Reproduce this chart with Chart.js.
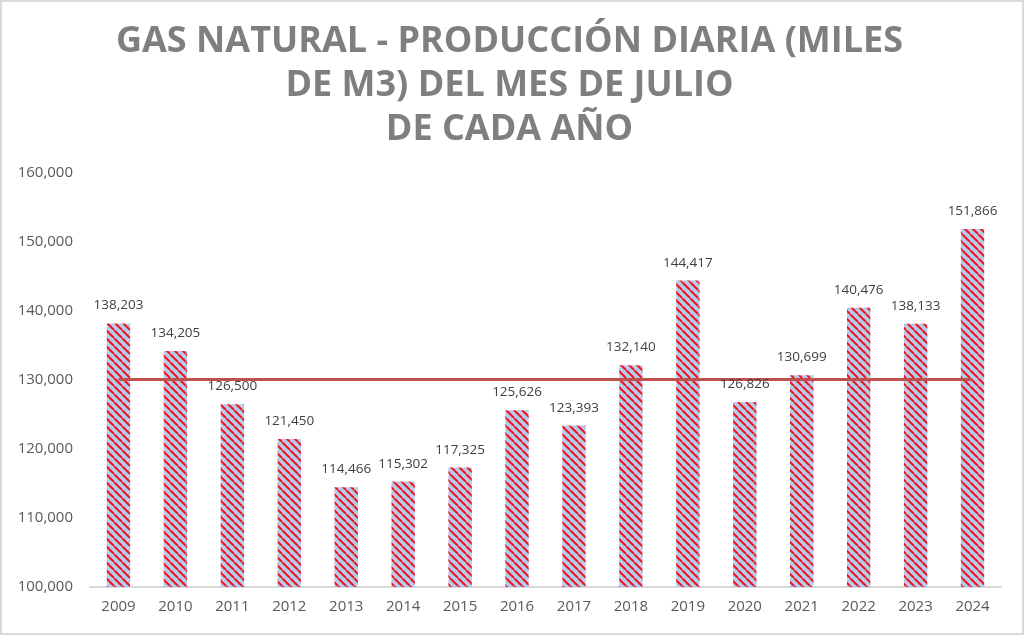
<!DOCTYPE html>
<html>
<head>
<meta charset="utf-8">
<script src="https://cdn.jsdelivr.net/npm/chart.js@4"></script>
<style>
  html, body { margin: 0; padding: 0; background: #fff; }
  #marco { width: 1024px; height: 635px; box-sizing: border-box; border: 2px solid #d9d9d9; background: #fff; }
  canvas { display: block; }
</style>
</head>
<body>
<div id="marco"><canvas id="gasChart" width="1020" height="631"></canvas></div>
<script>
// Datos: producción diaria de gas natural (miles de m3), mes de julio
const anios = ['2009', '2010', '2011', '2012', '2013', '2014', '2015', '2016',
               '2017', '2018', '2019', '2020', '2021', '2022', '2023', '2024'];
const produccion = [138203, 134205, 126500, 121450, 114466, 115302, 117325, 125626,
                    123393, 132140, 144417, 126826, 130699, 140476, 138133, 151866];
// linea de promedio del periodo
const promedio = [130064, 130064, 130064, 130064, 130064, 130064, 130064, 130064,
                  130064, 130064, 130064, 130064, 130064, 130064, 130064, 130064];
const tituloLineas = ['GAS NATURAL - PRODUCCIÓN DIARIA (MILES', 'DE M3) DEL MES DE JULIO', 'DE CADA AÑO'];

// Relleno rayado (azul claro con diagonales rojas)
function rayado() {
    const c = document.createElement('canvas');
    c.width = 8; c.height = 8;
    const g = c.getContext('2d');
    g.fillStyle = '#b6cbeb';
    g.fillRect(0, 0, 8, 8);
    g.strokeStyle = '#f0141e';
    g.lineWidth = 2;
    g.beginPath();
    [-8, 0, 8].forEach(o => { g.moveTo(o, 0); g.lineTo(o + 8, 8); });
    g.stroke();
    return g.createPattern(c, 'repeat');
}

// Etiquetas de valor encima de cada barra
const etiquetas = {
    id: 'etiquetas',
    afterDatasetsDraw(chart) {
        const ctx = chart.ctx;
        const meta = chart.getDatasetMeta(0);
        ctx.save();
        ctx.font = '13.5px "Open Sans"';
        ctx.fillStyle = '#404040';
        ctx.textAlign = 'center';
        ctx.textBaseline = 'bottom';
        meta.data.forEach((bar, i) => {
            ctx.fillText(produccion[i].toLocaleString('en-US'), bar.x, bar.y - 11);
        });
        ctx.restore();
    }
};

new Chart(document.getElementById('gasChart'), {
    data: {
        labels: anios,
        datasets: [{
            type: 'bar',
            label: 'Producción',
            data: produccion,
            backgroundColor: rayado(),
            borderWidth: 0,
            barPercentage: 0.41,
            categoryPercentage: 1,
            order: 2
        }, {
            type: 'line',
            label: 'Promedio',
            data: promedio,
            borderColor: '#c0504d',
            borderWidth: 3,
            pointRadius: 0,
            fill: false,
            order: 1
        }]
    },
    options: {
        responsive: false,
        animation: false,
        layout: { padding: { left: 8, right: 13, top: 0, bottom: 0 } },
        plugins: {
            legend: { display: false },
            tooltip: { enabled: false },
            title: {
                display: true,
                text: tituloLineas,
                color: '#7f7f7f',
                font: { family: '"Open Sans"', size: 36, weight: 'bold', lineHeight: 1.222 },
                padding: { top: 18, bottom: 21 }
            }
        },
        scales: {
            x: {
                grid: { display: false, drawTicks: false },
                border: { display: true, color: '#d9d9d9', width: 2 },
                ticks: { color: '#595959', font: { family: '"Open Sans"', size: 15 }, padding: 11 },
                afterFit(scale) { scale.height = 46; }
            },
            y: {
                min: 100000,
                max: 160000,
                grid: { display: false, drawTicks: false },
                border: { display: false },
                ticks: {
                    stepSize: 10000,
                    color: '#595959',
                    font: { family: '"Open Sans"', size: 15 },
                    padding: 17,
                    callback: v => v.toLocaleString('en-US')
                },
                afterFit(scale) { scale.width = 80; }
            },
            // eje vacío a la derecha, solo reserva margen
            margenDer: {
                position: 'right',
                min: 100000,
                max: 160000,
                grid: { display: false, drawTicks: false },
                border: { display: false },
                ticks: { display: false },
                afterFit(scale) { scale.width = 8; }
            }
        }
    },
    plugins: [etiquetas]
});
</script>
</body>
</html>
